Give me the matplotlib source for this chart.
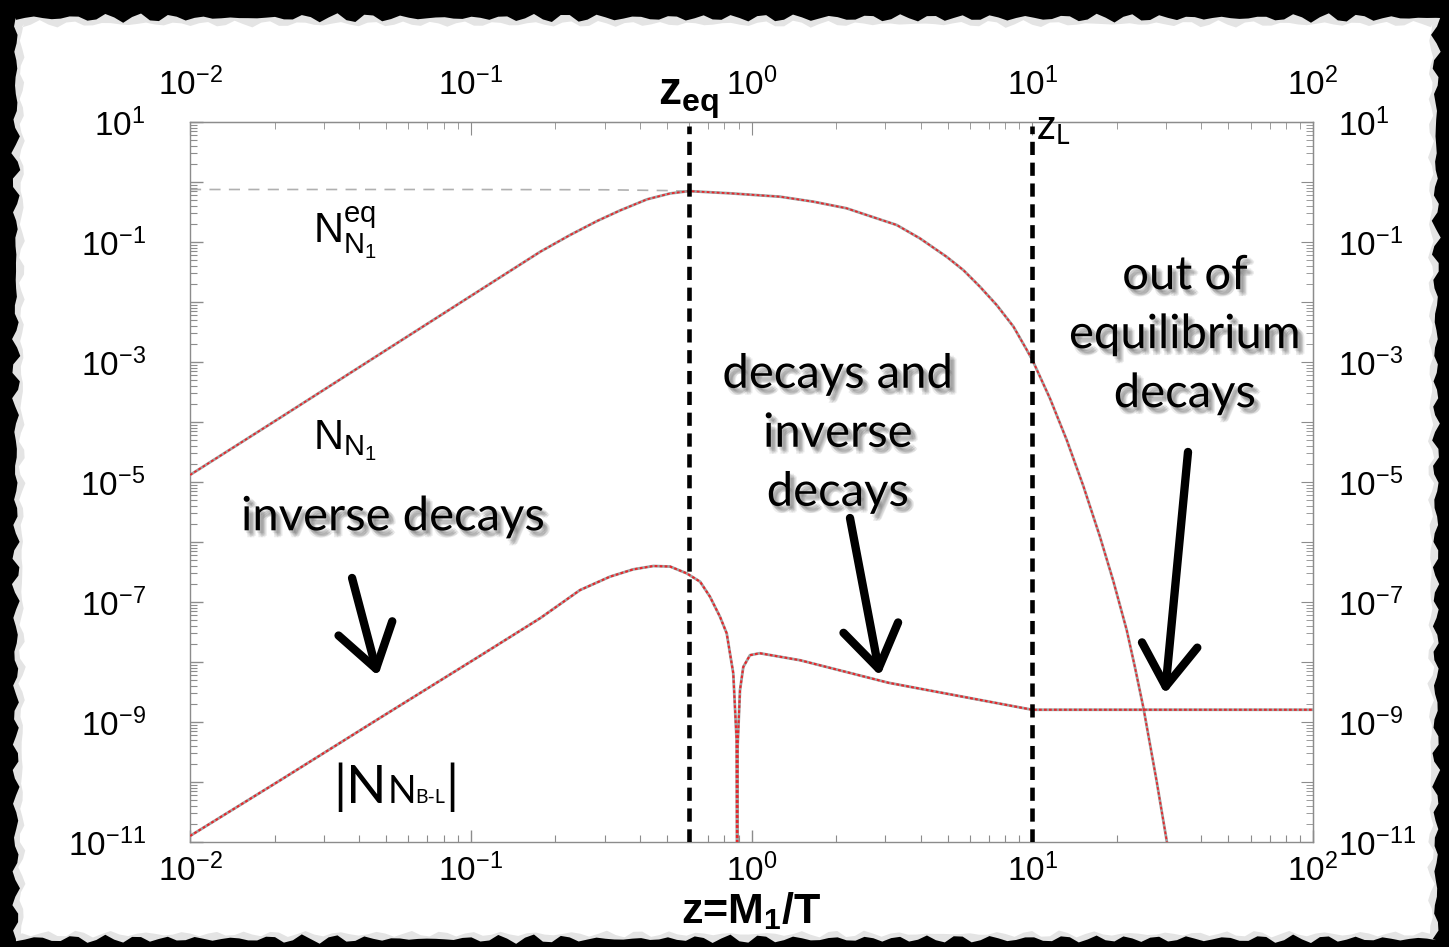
import numpy as np
import matplotlib.pyplot as plt
import matplotlib.patheffects as pe
from matplotlib.patches import Polygon
from matplotlib.ticker import LogLocator, NullFormatter

plt.rcParams['font.family'] = 'Liberation Sans'
plt.rcParams['mathtext.fontset'] = 'custom'
plt.rcParams['mathtext.rm'] = 'Liberation Sans'
plt.rcParams['mathtext.it'] = 'Liberation Sans:italic'
plt.rcParams['mathtext.bf'] = 'Liberation Sans:bold'
plt.rcParams['lines.scale_dashes'] = False

# N1 abundance vs z = M1/T
z_n1 = [0.01, 0.0209, 0.0475, 0.108, 0.177, 0.226, 0.282, 0.340, 0.425, 0.513, 0.599,
        0.838, 1.264, 1.661, 2.18, 2.57, 3.29, 3.98, 4.95, 5.68, 6.51, 7.47, 8.57, 9.95,
        11.56, 13.27, 15.2, 17.42, 19.44, 21.7, 23.2, 24.9, 27.7, 30.1, 32.2]
n_n1 = [1.31e-5, 1.17e-4, 1.36e-3, 1.58e-2, 6.9e-2, 0.131, 0.224, 0.335, 0.515, 0.645, 0.705,
        0.648, 0.569, 0.47, 0.365, 0.282, 0.192, 0.115, 5.69e-2, 3.41e-2, 1.8e-2, 8.9e-3, 3.89e-3, 1.15e-3,
        2.48e-4, 5.0e-5, 8.6e-6, 1.23e-6, 2.24e-7, 3.4e-8, 8.3e-9, 1.7e-9, 1.07e-10, 1.07e-11, 1.5e-12]

# equilibrium abundance
z_eqm = [0.01, 0.1, 0.3, 0.5, 0.599, 0.838, 1.264, 1.661, 2.18, 2.57, 3.29, 3.98, 4.95,
         5.68, 6.51, 7.47, 8.57, 9.95]
n_eqm = [0.75, 0.75, 0.742, 0.72, 0.70, 0.648, 0.569, 0.47, 0.365, 0.282, 0.192, 0.115, 5.69e-2,
         3.41e-2, 1.8e-2, 8.9e-3, 3.89e-3, 1.1e-3]

# |N_B-L| asymmetry
z_bl = [0.01, 0.0209, 0.0475, 0.108, 0.177, 0.245, 0.313, 0.379, 0.447, 0.513, 0.588, 0.656,
        0.711, 0.772, 0.816, 0.861, 0.885, 0.89, 0.8925, 0.91, 0.935, 0.988, 1.07, 1.49, 3.08,
        10.0, 100.0]
n_bl = [1.26e-11, 1.06e-10, 1.17e-9, 1.27e-8, 5.4e-8, 1.58e-7, 2.64e-7, 3.5e-7, 3.98e-7, 3.9e-7, 3.0e-7, 2.18e-7,
        1.23e-7, 5.7e-8, 3.0e-8, 6.5e-9, 5e-10, 1e-13, 4e-10, 3.4e-9, 8.3e-9, 1.3e-8, 1.4e-8, 1.07e-8, 4.5e-9,
        1.6e-9, 1.6e-9]

z_eq = 0.6
z_l = 10.0

x_ticks = [1e-2, 1e-1, 1e0, 1e1, 1e2]
x_labels = [r'$10^{-2}$', r'$10^{-1}$', r'$10^{0}$', r'$10^{1}$', r'$10^{2}$']
y_exps = list(range(1, -12, -1))
y_ticks = [10.0 ** e for e in y_exps]
y_labels = [r'$10^{%d}$' % e if e % 2 else '' for e in y_exps]

W, H = 1449, 947
fig = plt.figure(figsize=(W / 100, H / 100), dpi=100, facecolor='black')

# torn paper sheet behind the plot
def edge(n, amp, ph):
    k = np.arange(n)
    return amp * (0.5 * np.sin(k * 1.7 + ph) + 0.3 * np.sin(k * 4.3 + 2 * ph) + 0.2 * np.sin(k * 11.1 + ph))

def sheet(x0, y0, x1, y1, amp, ph):
    n = 160
    top = np.column_stack([np.linspace(x0, x1, n), y0 + edge(n, amp, ph)])
    right = np.column_stack([x1 + edge(110, amp, ph + 1), np.linspace(y0, y1, 110)])
    bottom = np.column_stack([np.linspace(x1, x0, n), y1 + edge(n, amp, ph + 2)])
    left = np.column_stack([x0 + edge(110, amp, ph + 3), np.linspace(y1, y0, 110)])
    pts = np.vstack([top, right, bottom, left])
    pts[:, 0] /= W
    pts[:, 1] = 1 - pts[:, 1] / H
    return pts

fig.patches.append(Polygon(sheet(16, 18, 1436, 939, 5, 0.3), closed=True, transform=fig.transFigure,
                           facecolor='#e4e4e4', edgecolor='none', zorder=-2))
fig.patches.append(Polygon(sheet(22, 24, 1431, 934, 4, 1.1), closed=True, transform=fig.transFigure,
                           facecolor='white', edgecolor='none', zorder=-1))

ax = fig.add_axes([190 / W, 1 - 842 / H, 1123 / W, 720 / H])
ax.set_facecolor('white')
ax.set_xscale('log')
ax.set_yscale('log')
ax.set_xlim(1e-2, 1e2)
ax.set_ylim(1e-11, 1e1)

ax.plot(z_eqm, n_eqm, color='#b0b0b0', lw=1.2, ls=(0, (8, 6)), zorder=2)
ax.plot(z_n1, n_n1, color='#a0a0a0', lw=2.0, zorder=3)
ax.plot(z_n1, n_n1, color='#e8262a', lw=1.3, ls=(0, (2, 1.6)), zorder=4)
ax.plot(z_bl, n_bl, color='#a0a0a0', lw=2.0, zorder=3)
ax.plot(z_bl, n_bl, color='#e8262a', lw=1.5, ls=(0, (2, 1.6)), zorder=4)

for zv in (z_eq, z_l):
    ax.axvline(zv, ymax=0.995, color='black', lw=3.3, ls=(0, (9.5, 5.5)), zorder=5)

for s in ax.spines.values():
    s.set_color('#8c8c8c')
    s.set_linewidth(1.0)

ax.set_xticks(x_ticks, x_labels)
ax.set_yticks(y_ticks, y_labels)
ax.xaxis.set_minor_locator(LogLocator(base=10, subs=np.arange(2, 10), numticks=20))
ax.yaxis.set_minor_locator(LogLocator(base=10, subs=np.arange(2, 10), numticks=30))
ax.xaxis.set_minor_formatter(NullFormatter())
ax.yaxis.set_minor_formatter(NullFormatter())
ax.tick_params(which='both', direction='in', color='#8c8c8c', labelsize=24)
ax.tick_params(which='major', length=9, width=1)
ax.tick_params(which='minor', length=5, width=0.8)
ax.tick_params(axis='x', pad=8)
ax.tick_params(axis='y', pad=32)

top = ax.secondary_xaxis('top')
top.set_xticks(x_ticks, x_labels)
top.xaxis.set_minor_locator(LogLocator(base=10, subs=np.arange(2, 10), numticks=20))
top.xaxis.set_minor_formatter(NullFormatter())
top.tick_params(which='both', direction='in', color='#8c8c8c', labelsize=24)
top.tick_params(which='major', length=9, pad=14)
top.tick_params(which='minor', length=5)
top.spines['top'].set_color('#8c8c8c')

right = ax.secondary_yaxis('right')
right.set_yticks(y_ticks, y_labels)
right.yaxis.set_minor_locator(LogLocator(base=10, subs=np.arange(2, 10), numticks=30))
right.yaxis.set_minor_formatter(NullFormatter())
right.tick_params(which='both', direction='in', color='#8c8c8c', labelsize=24)
right.tick_params(which='major', length=9, pad=18)
right.tick_params(which='minor', length=5)
right.spines['right'].set_color('#8c8c8c')

ax.set_xlabel(r'z=M$\mathbf{_1}$/T', fontsize=31, fontweight='bold', labelpad=2)

# curve labels
ax.text(0.138, 0.847, r'$\mathrm{N}^{\mathrm{eq}}_{\mathrm{N}_1}$', transform=ax.transAxes,
        ha='center', va='center', fontsize=30)
ax.text(0.138, 0.558, r'$\mathrm{N}_{\mathrm{N}_1}$', transform=ax.transAxes,
        ha='center', va='center', fontsize=30)

t1 = ax.text(0.128, 0.054, '|N', transform=ax.transAxes, va='baseline', fontsize=38, family='Lato')
t2 = ax.annotate('N', xy=(1, 0.054), xycoords=(t1, 'axes fraction'), va='baseline',
                 fontsize=27, family='Lato')
t3 = ax.annotate('B-L', xy=(1, 0.054), xycoords=(t2, 'axes fraction'), va='baseline',
                 fontsize=14, family='Lato')
ax.annotate('|', xy=(1, 0.054), xycoords=(t3, 'axes fraction'), va='baseline',
            fontsize=38, family='Lato')

ax.annotate(r'$\mathbf{z_{eq}}$', xy=(0.4165, 1.024), xycoords='axes fraction', va='baseline',
            fontsize=33, annotation_clip=False)
tz = ax.annotate('z', xy=(0.754, 0.976), xycoords='axes fraction', va='baseline',
                 fontsize=30, family='Lato', annotation_clip=False)
ax.annotate('L', xy=(1, 0.970), xycoords=(tz, 'axes fraction'), va='baseline',
            fontsize=19, family='Lato')

# soft drop shadow built from a few faint offset copies
shadow = [pe.SimplePatchShadow(offset=(dx, dy), shadow_rgbFace='#303030', alpha=0.09)
          for dx, dy in [(1, -2), (2, -3), (3, -4), (4, -5), (3, -2), (2, -5), (5, -4), (4, -3)]]
shadow.append(pe.Normal())
ax.text(0.181, 0.451, 'inverse decays', transform=ax.transAxes, ha='center', va='center',
        fontsize=34, family='Lato', path_effects=shadow)
ax.text(0.577, 0.567, 'decays and\ninverse\ndecays', transform=ax.transAxes, ha='center',
        va='center', fontsize=34, family='Lato', linespacing=1.5, path_effects=shadow)
ax.text(0.886, 0.704, 'out of\nequilibrium\ndecays', transform=ax.transAxes, ha='center',
        va='center', fontsize=34, family='Lato', linespacing=1.5, path_effects=shadow)

# hand-drawn style arrows
arrows = [((0.1443, 0.3667), (0.1674, 0.2306)),
          ((0.5877, 0.4500), (0.6144, 0.2306)),
          ((0.8887, 0.5417), (0.8682, 0.2056))]
for tail, tip in arrows:
    ax.annotate('', xy=tip, xytext=tail, xycoords='axes fraction',
                arrowprops=dict(arrowstyle='->, head_length=1.5, head_width=1.0', lw=6,
                                color='black', shrinkA=0, shrinkB=0, mutation_scale=20))

fig.savefig('out.png', dpi=100, facecolor=fig.get_facecolor())
